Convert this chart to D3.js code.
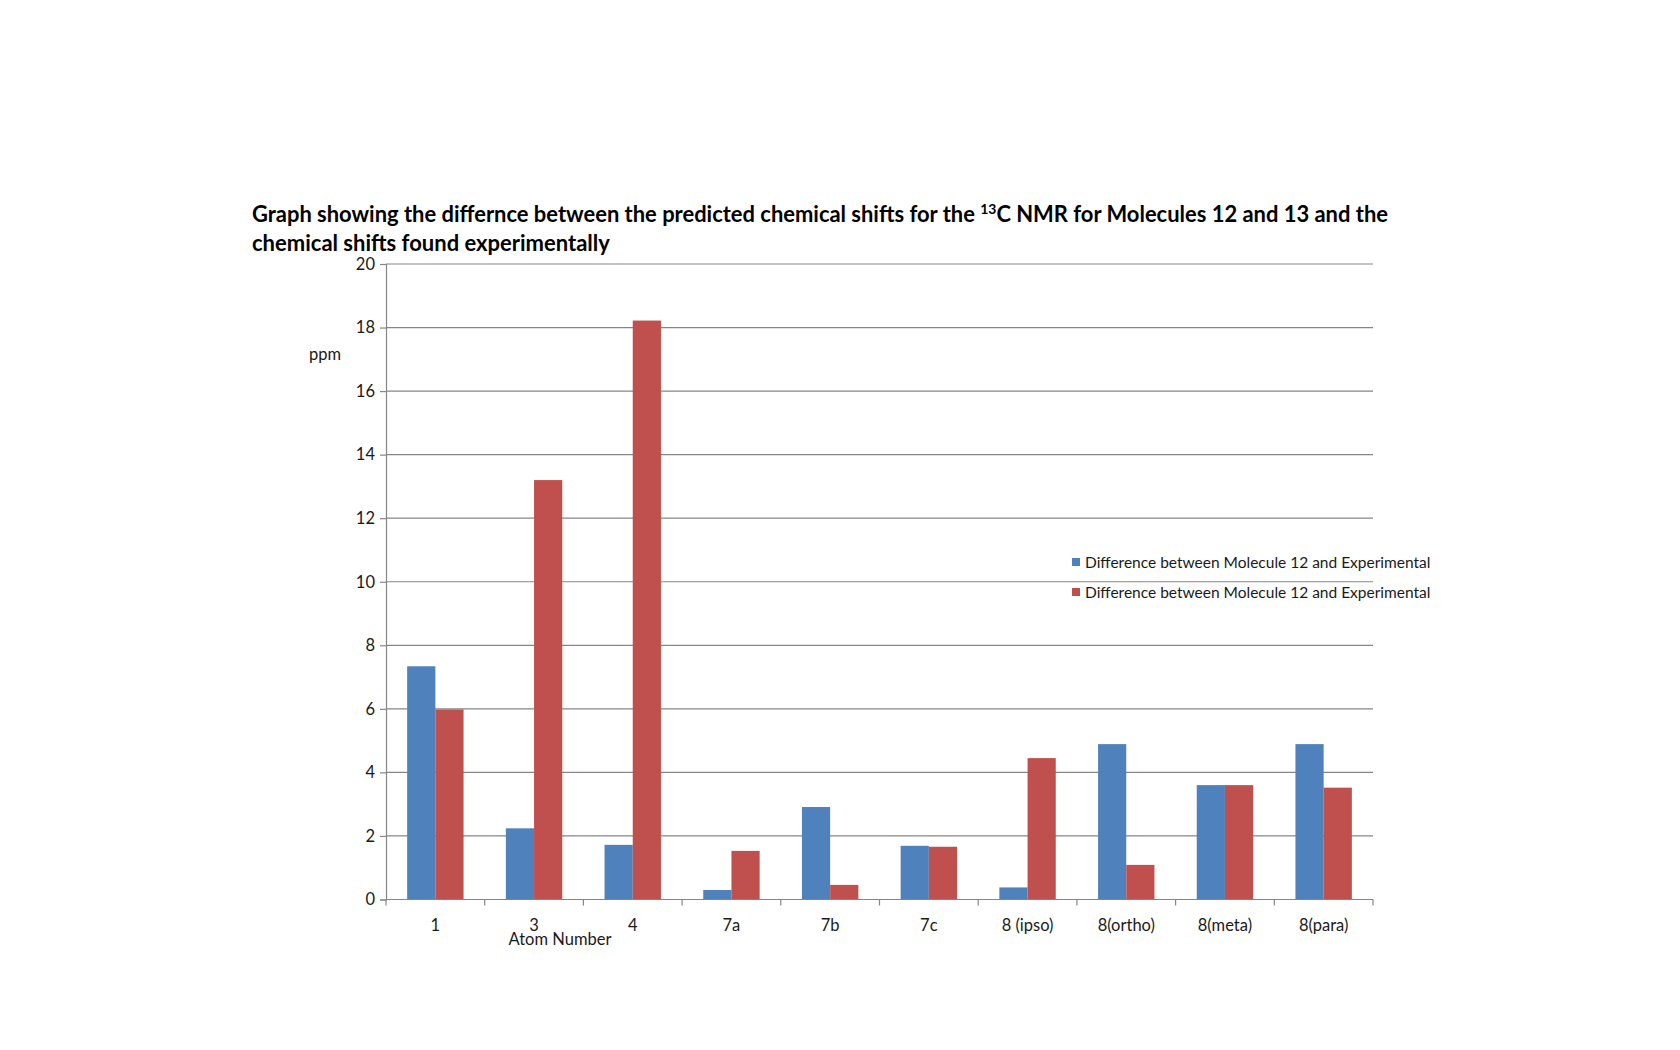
<!DOCTYPE html>
<html>
<head>
<meta charset="utf-8">
<script src="https://cdn.jsdelivr.net/npm/d3@7"></script>
<style>
  body { margin: 0; background: #fff; }
  text { font-family: Lato, "Open Sans", sans-serif; }
</style>
</head>
<body>
<div id="my_dataviz"></div>
<script>
// data
var atoms = ["1", "3", "4", "7a", "7b", "7c", "8 (ipso)", "8(ortho)", "8(meta)", "8(para)"];
var mol12 = [7.34, 2.24, 1.72, 0.30, 2.91, 1.69, 0.38, 4.89, 3.60, 4.89];
var mol13 = [5.98, 13.2, 18.22, 1.53, 0.46, 1.66, 4.45, 1.09, 3.60, 3.52];
var seriesNames = ["Difference between Molecule 12 and Experimental",
                   "Difference between Molecule 12 and Experimental"];
var yTicks = [0, 2, 4, 6, 8, 10, 12, 14, 16, 18, 20];

var colors = ["#4F81BD", "#C0504D"];
var gridColor = "#868686";
var labelSize = 16.5;

// plot area
var margin = {top: 264, left: 386},
  width = 1373 - 386,
  height = 899.5 - 264;

var svg = d3.select("#my_dataviz")
.append("svg")
  .attr("width", 1680)
  .attr("height", 1050);

var g = svg.append("g")
  .attr("transform", "translate(" + margin.left + "," + margin.top + ")");

var y = d3.scaleLinear()
    .domain([0, 20])
    .range([height, 0]);

var x0 = d3.scaleBand()
    .domain(atoms)
    .range([0, width]);

// excel style 150% gap between groups
var x1 = d3.scaleBand()
    .domain([0, 1])
    .range([0, x0.bandwidth()])
    .paddingInner(0)
    .paddingOuter(0.75);

// gridlines
g.selectAll(".grid")
.data(yTicks.filter(function(d){ return d > 0; }))
.enter()
.append("line")
  .attr("x1", 0)
  .attr("x2", width)
  .attr("y1", function(d){ return y(d); })
  .attr("y2", function(d){ return y(d); })
  .attr("stroke", gridColor)
  .attr("stroke-width", 1.2);

// y axis
var yAxis = g.append("g")
  .call(d3.axisLeft(y).tickValues(yTicks).tickSize(6).tickPadding(5));
yAxis.select(".domain").attr("stroke", gridColor).attr("stroke-width", 1.2);
yAxis.selectAll(".tick line").attr("stroke", gridColor).attr("stroke-width", 1.2);
yAxis.selectAll(".tick text")
  .attr("font-size", labelSize)
  .attr("fill", "#1a1a1a")
  .style("font-family", "Lato, sans-serif");

// bars
var groups = g.selectAll(".grp")
.data(atoms)
.enter()
.append("g")
  .attr("transform", function(d){ return "translate(" + x0(d) + ",0)"; });

groups.selectAll("rect")
.data(function(d, i){ return [mol12[i], mol13[i]]; })
.enter()
.append("rect")
  .attr("x", function(d, j){ return x1(j); })
  .attr("y", function(d){ return y(d); })
  .attr("width", x1.bandwidth())
  .attr("height", function(d){ return y(0) - y(d); })
  .style("fill", function(d, j){ return colors[j]; });

// x axis line and ticks between categories
g.append("line")
  .attr("x1", 0)
  .attr("x2", width)
  .attr("y1", y(0))
  .attr("y2", y(0))
  .attr("stroke", gridColor)
  .attr("stroke-width", 1.2);

var bounds = atoms.map(function(d){ return x0(d); }).concat([width]);
g.selectAll(".xtick")
.data(bounds)
.enter()
.append("line")
  .attr("x1", function(d){ return d; })
  .attr("x2", function(d){ return d; })
  .attr("y1", y(0))
  .attr("y2", y(0) + 6)
  .attr("stroke", gridColor)
  .attr("stroke-width", 1.2);

g.selectAll(".xlab")
.data(atoms)
.enter()
.append("text")
  .attr("x", function(d){ return x0(d) + x0.bandwidth() / 2; })
  .attr("y", y(0) + 31)
  .attr("text-anchor", "middle")
  .attr("font-size", labelSize)
  .attr("fill", "#1a1a1a")
  .text(function(d){ return d; });

// axis titles
svg.append("text")
  .attr("x", 560)
  .attr("y", 945)
  .attr("text-anchor", "middle")
  .attr("font-size", labelSize)
  .attr("fill", "#1a1a1a")
  .text("Atom Number");

svg.append("text")
  .attr("x", 325)
  .attr("y", 360)
  .attr("text-anchor", "middle")
  .attr("font-size", labelSize)
  .attr("fill", "#1a1a1a")
  .text("ppm");

// chart title
var t1 = svg.append("text")
  .attr("x", 252)
  .attr("y", 222)
  .attr("font-size", 22)
  .attr("font-weight", "bold")
  .attr("fill", "#000")
  .attr("textLength", 1136)
  .attr("lengthAdjust", "spacingAndGlyphs");
t1.append("tspan").text("Graph showing the differnce between the predicted chemical  shifts for the ");
t1.append("tspan").attr("font-size", 14).attr("dy", -8).text("13");
t1.append("tspan").attr("dy", 8).text("C NMR for Molecules 12 and 13 and the");

svg.append("text")
  .attr("x", 252)
  .attr("y", 251)
  .attr("font-size", 22)
  .attr("font-weight", "bold")
  .attr("fill", "#000")
  .text("chemical shifts found experimentally");

// legend
var legend = svg.selectAll(".legend")
.data(seriesNames)
.enter()
.append("g")
  .attr("transform", function(d, i){ return "translate(1072," + (562 + i * 30) + ")"; });

legend.append("rect")
  .attr("x", 0)
  .attr("y", -4)
  .attr("width", 8)
  .attr("height", 8)
  .style("fill", function(d, i){ return colors[i]; });

legend.append("text")
  .attr("x", 13)
  .attr("y", 5.5)
  .attr("font-size", 15.5)
  .attr("fill", "#1a1a1a")
  .text(function(d){ return d; });
</script>
</body>
</html>
